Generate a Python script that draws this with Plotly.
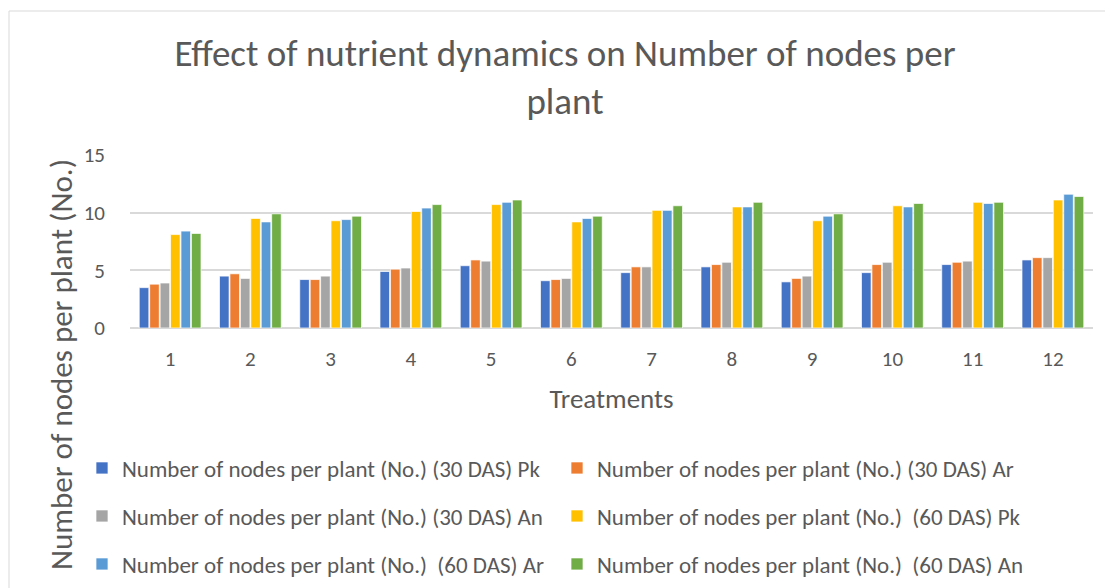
import plotly.graph_objects as go

# Tratamentos no eixo X
treatments = ["1", "2", "3", "4", "5", "6", "7", "8", "9", "10", "11", "12"]

nodes_30_pk = [3.5, 4.5, 4.2, 4.9, 5.4, 4.1, 4.8, 5.3, 4.0, 4.8, 5.5, 5.9]
nodes_30_ar = [3.8, 4.7, 4.2, 5.1, 5.9, 4.2, 5.3, 5.5, 4.3, 5.5, 5.7, 6.1]
nodes_30_an = [3.9, 4.3, 4.5, 5.2, 5.8, 4.3, 5.3, 5.7, 4.5, 5.7, 5.8, 6.1]
nodes_60_pk = [8.1, 9.5, 9.3, 10.1, 10.7, 9.2, 10.2, 10.5, 9.3, 10.6, 10.9, 11.1]
nodes_60_ar = [8.4, 9.2, 9.4, 10.4, 10.9, 9.5, 10.2, 10.5, 9.7, 10.5, 10.8, 11.6]
nodes_60_an = [8.2, 9.9, 9.7, 10.7, 11.1, 9.7, 10.6, 10.9, 9.9, 10.8, 10.9, 11.4]

series_names = [
    "Number of nodes per plant (No.) (30 DAS) Pk",
    "Number of nodes per plant (No.) (30 DAS) Ar",
    "Number of nodes per plant (No.) (30 DAS) An",
    "Number of nodes per plant (No.) \u00a0(60 DAS) Pk",
    "Number of nodes per plant (No.) \u00a0(60 DAS) Ar",
    "Number of nodes per plant (No.) \u00a0(60 DAS) An",
]
series_values = [nodes_30_pk, nodes_30_ar, nodes_30_an, nodes_60_pk, nodes_60_ar, nodes_60_an]

cores = ["#4472C4", "#ED7D31", "#A5A5A5", "#FFC000", "#5B9BD5", "#70AD47"]
legendas = ["legend", "legend", "legend2", "legend2", "legend3", "legend3"]

FONTE = "Carlito, Lato, sans-serif"
CINZA = "#595959"
W, H = 1113, 588

# area do grafico (px dentro da figura)
PL, PR, PT, PB = 122, 1085, 147, 320
PW, PH = PR - PL, PB - PT

fig = go.Figure()
for nome, valores, cor, leg in zip(series_names, series_values, cores, legendas):
    fig.add_trace(go.Bar(
        x=treatments,
        y=valores,
        name=nome,
        marker_color=cor,
        marker_line_color="rgba(255,255,255,0.7)",
        marker_line_width=1,
        legend=leg,
    ))

# Legenda em 3 linhas (uma legenda por linha, 2 itens cada)
leg_base = dict(
    orientation="h",
    xref="container",
    yref="container",
    xanchor="left",
    yanchor="middle",
    x=74 / W,
    entrywidth=430,
    entrywidthmode="pixels",
    font=dict(family=FONTE, size=23, color=CINZA),
    bgcolor="rgba(0,0,0,0)",
    traceorder="normal",
)

fig.update_layout(
    width=W,
    height=H,
    plot_bgcolor="white",
    paper_bgcolor="white",
    font=dict(family=FONTE, color=CINZA),
    title=dict(
        text="Effect of nutrient dynamics on Number of nodes per<br>plant",
        x=557 / W,
        xanchor="center",
        yref="container",
        y=1 - 58 / H,
        yanchor="top",
        font=dict(family=FONTE, size=37, color=CINZA),
    ),
    barmode="group",
    bargap=0.22,
    bargroupgap=0.08,
    margin=dict(l=PL, r=W - PR, t=PT, b=H - PB),
    legend=dict(leg_base, y=1 - 460 / H),
    legend2=dict(leg_base, y=1 - 508 / H),
    legend3=dict(leg_base, y=1 - 556 / H),
)

fig.update_xaxes(
    type="category",
    range=[-0.5, 11.5],
    showgrid=False,
    showline=False,
    ticks="",
    ticklabelstandoff=16,
    tickfont=dict(family=FONTE, size=21, color=CINZA),
    title=dict(text="Treatments", font=dict(family=FONTE, size=27, color=CINZA), standoff=18),
)

fig.update_yaxes(
    range=[0, 15],
    dtick=5,
    showgrid=True,
    gridcolor="#D9D9D9",
    gridwidth=1.5,
    zeroline=True,
    zerolinecolor="#D9D9D9",
    zerolinewidth=1.5,
    ticks="",
    tickfont=dict(family=FONTE, size=21, color=CINZA),
    ticklabelstandoff=24,
)

# Título do eixo Y (centralizado como no Excel)
fig.add_annotation(
    text="Number of nodes per plant (No.)",
    xref="paper", yref="paper",
    x=(53 - PL) / PW, y=(PB - 357) / PH,
    xanchor="center", yanchor="middle",
    textangle=-90,
    showarrow=False,
    font=dict(family=FONTE, size=31, color=CINZA),
)

# Borda da área do gráfico
fig.add_shape(
    type="rect",
    xref="paper", yref="paper",
    x0=(1 - PL) / PW, x1=(1130 - PL) / PW,
    y0=(PB - 600) / PH, y1=(PB - 3) / PH,
    line=dict(color="#D9D9D9", width=1),
    fillcolor="rgba(0,0,0,0)",
    layer="below",
)

fig.write_html("out.html")
